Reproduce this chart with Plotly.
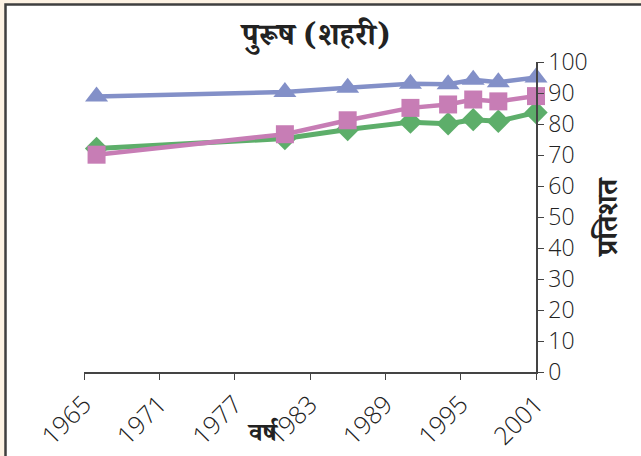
import plotly.graph_objects as go

# Survey years and percentages (urban males)
years = [1966, 1981, 1986, 1991, 1994, 1996, 1998, 2001]
series_blue = [88.9, 90.3, 91.7, 93.0, 92.8, 94.3, 93.5, 95.0]
series_pink = [70.1, 76.7, 81.2, 85.2, 86.3, 87.9, 87.3, 89.0]
series_green = [72.1, 75.3, 78.2, 80.6, 80.1, 81.4, 80.9, 83.7]

title_text = "पुरूष (शहरी)"
x_title = "वर्ष"
y_title = "प्रतिशत"

BLUE = "#8390C8"
PINK = "#C77DB5"
GREEN = "#5DAE6A"
CREAM = "#FDF2E3"
DEVA = "Noto Serif Devanagari, Noto Sans Devanagari, Lohit Devanagari, FreeSerif, serif"
NUM = "Open Sans, DejaVu Sans, sans-serif"

W, H = 641, 456
ML, MR, MT, MB = 84, 105, 62, 84
PW, PH = W - ML - MR, H - MT - MB


def px_x(x):
    return (x - ML) / PW


def px_y(y):
    return (H - MB - y) / PH


fig = go.Figure()
fig.add_trace(go.Scatter(
    x=years, y=series_green, mode="lines+markers", name="green",
    line=dict(color=GREEN, width=5),
    marker=dict(symbol="diamond", size=18, color=GREEN),
    cliponaxis=False,
))
fig.add_trace(go.Scatter(
    x=years, y=series_pink, mode="lines+markers", name="pink",
    line=dict(color=PINK, width=4.5),
    marker=dict(symbol="square", size=18, color=PINK),
    cliponaxis=False,
))
fig.add_trace(go.Scatter(
    x=years, y=series_blue, mode="lines+markers", name="blue",
    line=dict(color=BLUE, width=4.5),
    marker=dict(symbol="triangle-up", size=20, color=BLUE),
    cliponaxis=False,
))

# white panel with dark border on a cream page
fig.add_shape(
    type="rect", xref="paper", yref="paper", layer="below",
    x0=px_x(5.5), x1=px_x(W + 20), y0=px_y(H + 20), y1=px_y(4.5),
    fillcolor="white", line=dict(color="#3f3f3f", width=2.5),
)

fig.add_annotation(
    text=f"<b>{title_text}</b>", xref="paper", yref="paper",
    x=px_x(315), y=px_y(40), showarrow=False,
    font=dict(family=DEVA, size=31, color="#222"),
    xanchor="center", yanchor="middle",
)
fig.add_annotation(
    text=f"<b>{x_title}</b>", xref="paper", yref="paper",
    x=px_x(263), y=px_y(437), showarrow=False,
    font=dict(family=DEVA, size=26, color="#222"),
    xanchor="center", yanchor="middle",
)

fig.update_layout(
    width=W, height=H,
    margin=dict(l=ML, r=MR, t=MT, b=MB),
    paper_bgcolor=CREAM, plot_bgcolor="rgba(0,0,0,0)",
    showlegend=False,
    xaxis=dict(
        range=[1965, 2001], tick0=1965, dtick=6, tickangle=-45,
        automargin=False,
        showgrid=False, zeroline=False, showline=True,
        linecolor="#444", linewidth=1.5, ticks="outside", ticklen=6,
        tickcolor="#444",
        tickfont=dict(family=NUM, size=25, color="#222", weight=300),
    ),
    yaxis=dict(
        side="right", range=[0, 100], dtick=10, automargin=False,
        showgrid=False, zeroline=False, showline=True,
        linecolor="#444", linewidth=1.5, ticks="outside", ticklen=6,
        tickcolor="#444",
        tickfont=dict(family=NUM, size=23, color="#222", weight=300),
        title=dict(text=f"<b>{y_title}</b>", standoff=10,
                   font=dict(family=DEVA, size=29, color="#222")),
    ),
)

fig.write_html("out.html")
